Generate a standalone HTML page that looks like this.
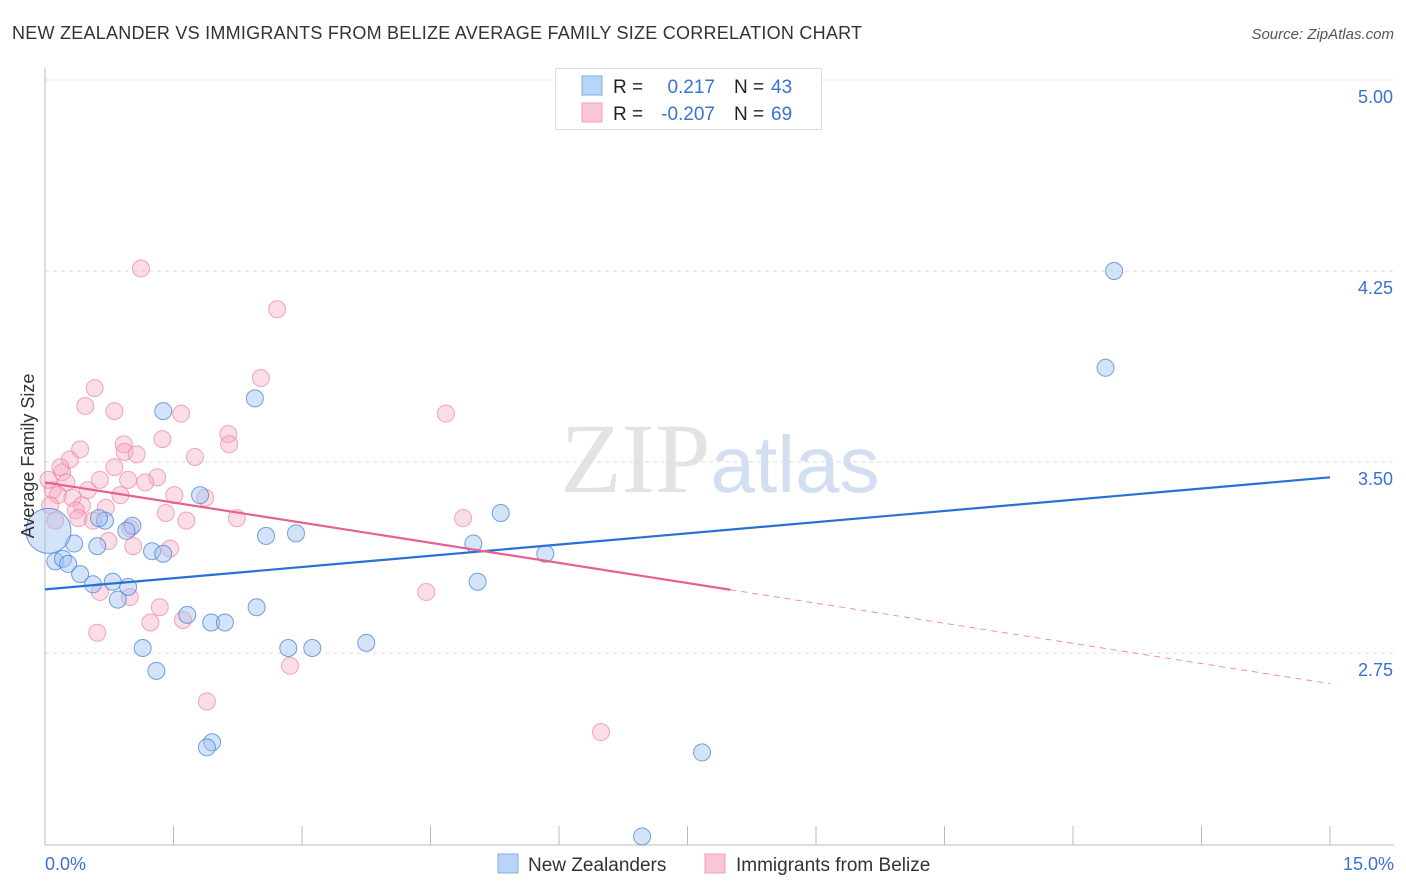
<!DOCTYPE html>
<html><head><meta charset="utf-8"><style>
body{margin:0;background:#fff;font-family:"Liberation Sans",sans-serif;}
svg{display:block}
</style></head><body>
<svg id="chart" width="1406" height="892" xmlns="http://www.w3.org/2000/svg">
<text x="12" y="39" font-size="18" fill="#333" textLength="850">NEW ZEALANDER VS IMMIGRANTS FROM BELIZE AVERAGE FAMILY SIZE CORRELATION CHART</text>
<text x="1394" y="39" font-size="15" fill="#555" text-anchor="end" font-style="italic">Source: ZipAtlas.com</text>
<text x="720" y="492" font-size="100" text-anchor="middle" fill="#ddd" font-family="Liberation Serif,serif" opacity="0.8">ZIP<tspan fill="#c8d8ee" font-family="Liberation Sans,sans-serif" font-size="80">atlas</tspan></text>
<g id="grid"></g>
<g id="axes"></g>
<g id="marks"></g>
<text transform="translate(34,456) rotate(-90)" font-size="18" fill="#333" text-anchor="middle">Average Family Size</text>
<g>
<rect x="555.5" y="68.5" width="266" height="61" fill="#fff" stroke="#ddd"/>
<rect x="582" y="76" width="20" height="19" fill="#b8d4f6" stroke="#80aee8"/>
<rect x="582" y="103" width="20" height="19" fill="#f9c6d6" stroke="#f0a0b8"/>
<text x="613" y="93" font-size="19" fill="#222">R = </text><text x="715" y="93" font-size="19" fill="#3a72d0" text-anchor="end">0.217</text>
<text x="734" y="93" font-size="19" fill="#222">N = </text><text x="771" y="93" font-size="19" fill="#3a72d0">43</text>
<text x="613" y="120" font-size="19" fill="#222">R = </text><text x="715" y="120" font-size="19" fill="#3a72d0" text-anchor="end">-0.207</text>
<text x="734" y="120" font-size="19" fill="#222">N = </text><text x="771" y="120" font-size="19" fill="#3a72d0">69</text>
</g>
<g>
<rect x="498" y="854" width="20" height="19" fill="#b8d4f6" stroke="#80aee8"/>
<text x="528" y="871" font-size="19" fill="#333">New Zealanders</text>
<rect x="705" y="854" width="20" height="19" fill="#f9c6d6" stroke="#f0a0b8"/>
<text x="736" y="871" font-size="19" fill="#333">Immigrants from Belize</text>
</g>
</svg>
<script>
const blueX=[12.48,12.38,1.38,2.45,1.81,5.32,5.00,5.84,2.58,2.93,0.70,1.02,0.95,0.61,0.34,1.25,1.38,0.12,0.21,0.27,0.41,0.56,0.79,0.97,0.85,1.66,2.47,1.94,2.10,5.05,1.14,2.84,3.12,3.75,1.30,1.95,1.89,7.67,6.97,0.63,0.04];
const blueY=[4.25,3.87,3.70,3.75,3.37,3.30,3.18,3.14,3.21,3.22,3.27,3.25,3.23,3.17,3.18,3.15,3.14,3.11,3.12,3.10,3.06,3.02,3.03,3.01,2.96,2.90,2.93,2.87,2.87,3.03,2.77,2.77,2.77,2.79,2.68,2.40,2.38,2.36,2.03,3.28,3.23];
const blueR=[8,8,8,8,8,8,8,8,8,8,8,8,8,8,8,8,8,8,8,8,8,8,8,8,8,8,8,8,8,8,8,8,8,8,8,8,8,8,8,8,22];
const pinkX=[1.12,2.71,2.52,0.58,0.47,0.81,1.59,4.68,1.37,2.14,2.15,0.92,0.93,1.75,0.29,0.81,0.20,0.64,0.97,1.31,1.17,0.25,0.09,0.15,0.32,0.50,0.88,1.51,1.87,0.43,0.71,0.06,0.36,1.41,0.39,2.24,1.65,4.88,0.99,0.74,1.46,1.03,0.64,0.99,1.34,1.23,1.61,0.61,4.45,2.86,1.89,6.49,0.04,0.12,0.56,1.07,0.18,0.41];
const pinkY=[4.26,4.10,3.83,3.79,3.72,3.70,3.69,3.69,3.59,3.61,3.57,3.57,3.54,3.52,3.51,3.48,3.46,3.43,3.43,3.44,3.42,3.42,3.39,3.37,3.36,3.39,3.37,3.37,3.36,3.33,3.32,3.33,3.31,3.30,3.28,3.28,3.27,3.28,3.24,3.19,3.16,3.17,2.99,2.97,2.93,2.87,2.88,2.83,2.99,2.70,2.56,2.44,3.43,3.27,3.27,3.53,3.48,3.55];
const blueTrend=[3.00,3.44];
const pinkTrend=[3.42,2.63];
const pinkSolidEnd=8.0;
const yTicks=[5.00,4.25,3.50,2.75];
const xTickCount=10;
const NS="http://www.w3.org/2000/svg";
const X0=45,X1=1330,XMAX=15,Y5=80,PXU=254.7,BOTTOM=845;
function xs(v){return X0+(v/XMAX)*(X1-X0);}
function ys(v){return Y5+(5-v)*PXU;}
function mk(tag,attrs,parent){const e=document.createElementNS(NS,tag);for(const k in attrs)e.setAttribute(k,attrs[k]);document.getElementById(parent).appendChild(e);return e;}
yTicks.forEach(t=>{
  const l=mk('line',{x1:X0,x2:1394,y1:ys(t),y2:ys(t),stroke:'#ddd','stroke-dasharray':'4,4'},'grid');
  
  
  const tx=mk('text',{x:1393,y:ys(t)+23,'font-size':18,fill:'#3a72d0','text-anchor':'end'},'grid');
  tx.textContent=t.toFixed(2);
  
  
});
const ax=mk('line',{x1:X0,x2:X0,y1:68,y2:BOTTOM,stroke:'#bbb'},'axes');


const bx=mk('line',{x1:X0,x2:1394,y1:BOTTOM,y2:BOTTOM,stroke:'#bbb'},'axes');


for(let i=1;i<=xTickCount;i++){
  const v=XMAX*i/xTickCount;
  const t=mk('line',{x1:xs(v),x2:xs(v),y1:826,y2:BOTTOM,stroke:'#bbb'},'axes');
  
  
}
const xl0=mk('text',{x:45,y:870,'font-size':18,fill:'#3a72d0'},'axes');xl0.textContent='0.0%';


const xl1=mk('text',{x:1394,y:870,'font-size':18,fill:'#3a72d0','text-anchor':'end'},'axes');xl1.textContent='15.0%';


pinkX.forEach((x,i)=>{
  const c=mk('circle',{cx:xs(x),cy:ys(pinkY[i]),r:8.5,fill:'rgba(246,170,195,0.4)',stroke:'rgba(236,130,165,0.7)','stroke-width':1},'marks');
  
  
});
blueX.forEach((x,i)=>{
  const c=mk('circle',{cx:xs(x),cy:ys(blueY[i]),r:blueR[i]+0.5,fill:'rgba(160,196,240,0.45)',stroke:'rgba(70,130,215,0.75)','stroke-width':1},'marks');
  
  
});
const bl=mk('line',{x1:xs(0),y1:ys(blueTrend[0]),x2:xs(15),y2:ys(blueTrend[1]),stroke:'#2a6fd6','stroke-width':2.2},'marks');


const pAt=v=>pinkTrend[0]+(pinkTrend[1]-pinkTrend[0])*v/15;
const pl=mk('line',{x1:xs(0),y1:ys(pinkTrend[0]),x2:xs(pinkSolidEnd),y2:ys(pAt(pinkSolidEnd)),stroke:'#e8608e','stroke-width':2.2},'marks');


const pd=mk('line',{x1:xs(pinkSolidEnd),y1:ys(pAt(pinkSolidEnd)),x2:xs(15),y2:ys(pinkTrend[1]),stroke:'#e8608e','stroke-width':1,'stroke-dasharray':'6,5',opacity:0.7},'marks');


</script>
</body></html>
